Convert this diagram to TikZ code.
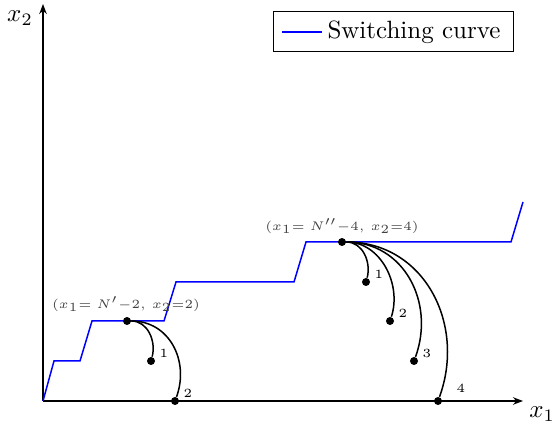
\documentclass[tikz,border=0pt]{standalone}
\usetikzlibrary{arrows.meta,positioning}

\begin{document}
\begin{tikzpicture}[
    x=0.4pt, y=-0.4pt,
    axis/.style={semithick, -{Stealth[length=4pt,width=3pt]}},
    switch/.style={semithick, blue},
    traj/.style={semithick, black},
    state/.style={circle, fill=black, inner sep=0pt, minimum size=3.2pt},
    idx/.style={font=\tiny, inner sep=1pt},
    tag/.style={font=\tiny, text=black!75, inner sep=1pt}
]
\useasboundingbox (0,0) rectangle (553,431);

% Axes
\coordinate (O) at (43,401);
\coordinate (xend) at (523,401);
\coordinate (yend) at (43,4);
\draw[axis] (O) -- (xend);
\draw[axis] (O) -- (yend);
\node (xlab) at (542,414) {$x_1$};
\node (ylab) at (20,18) {$x_2$};

% Switching curve
\draw[switch] (O) -- (54,361) -- (80,361) -- (92,321) -- (164,321) -- (176,282)
    -- (294,282) -- (306,242) -- (511,242) -- (523,202);

% Starting states
\node[state] (s1) at (127,321) {};
\node[state] (s2) at (342,242) {};
\node[tag] (t1) at (126,304) {$(x_1{=}\;N'{-}2,\,x_2{=}2)$};
\node[tag] (t2) at (342,226) {$(x_1{=}\;N''{-}4,\,x_2{=}4)$};

% End states
\node[state] (a1) at (151,361) {};
\node[state] (a2) at (175,401) {};
\node[state] (b1) at (366,282) {};
\node[state] (b2) at (390,321) {};
\node[state] (b3) at (414,361) {};
\node[state] (b4) at (438,401) {};

\node[idx, above right=-1pt and 1pt of a1] {1};
\node[idx, above right=-1pt and 1pt of a2] {2};
\node[idx, above right=-1pt and 1pt of b1] {1};
\node[idx, above right=-1pt and 1pt of b2] {2};
\node[idx, above right=-1pt and 1pt of b3] {3};
\node[idx, above right=1pt and 5pt of b4] {4};

% Trajectories
\draw[traj] (s1) to[out=0,in=75] (a1);
\draw[traj] (s1) to[out=0,in=70,looseness=1.1] (a2);
\draw[traj] (s2) to[out=0,in=75] (b1);
\draw[traj] (s2) to[out=0,in=72] (b2);
\draw[traj] (s2) to[out=0,in=70,looseness=1.1] (b3);
\draw[traj] (s2) to[out=0,in=70,looseness=1.1] (b4);

% Legend
\node[draw, thin, minimum width=96pt, minimum height=16pt, inner sep=0pt] (legend) at (393,32) {};
\coordinate (l1) at (282,32);
\coordinate (l2) at (322,32);
\draw[switch] (l1) -- (l2);
\node[right=1pt of l2, inner sep=1pt] (ltext) {Switching curve};

\end{tikzpicture}
\end{document}
